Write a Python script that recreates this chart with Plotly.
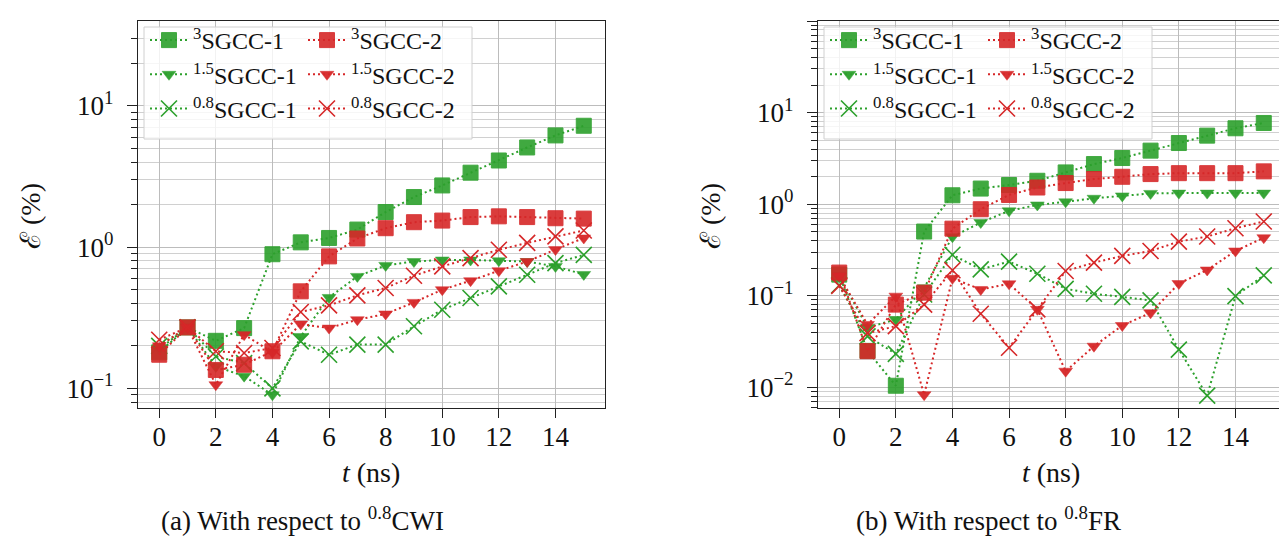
import plotly.graph_objects as go

t = list(range(16))

# Left panel: with respect to 0.8CWI
L_sq1 = [0.18, 0.27, 0.217, 0.267, 0.89, 1.08, 1.16, 1.33, 1.77, 2.26, 2.73, 3.36, 4.1, 5.07, 6.17, 7.22]
L_tri1 = [0.19, 0.27, 0.143, 0.122, 0.09, 0.233, 0.44, 0.62, 0.742, 0.79, 0.81, 0.81, 0.80, 0.79, 0.73, 0.64]
L_x1 = [0.2, 0.27, 0.168, 0.151, 0.1, 0.215, 0.173, 0.204, 0.204, 0.275, 0.36, 0.436, 0.527, 0.637, 0.77, 0.88]
L_sq2 = [0.173, 0.27, 0.135, 0.147, 0.183, 0.486, 0.859, 1.15, 1.36, 1.50, 1.54, 1.63, 1.65, 1.63, 1.60, 1.59]
L_tri2 = [0.2, 0.27, 0.106, 0.24, 0.18, 0.285, 0.267, 0.306, 0.336, 0.406, 0.499, 0.578, 0.68, 0.79, 0.96, 1.16]
L_x2 = [0.221, 0.27, 0.183, 0.178, 0.193, 0.347, 0.387, 0.455, 0.513, 0.627, 0.73, 0.836, 0.957, 1.07, 1.19, 1.31]

# Right panel: with respect to 0.8FR
R_sq1 = [0.17, 0.025, 0.0104, 0.502, 1.25, 1.48, 1.62, 1.8, 2.22, 2.74, 3.19, 3.84, 4.65, 5.6, 6.74, 7.7]
R_tri1 = [0.164, 0.045, 0.055, 0.122, 0.44, 0.63, 0.845, 0.98, 1.06, 1.16, 1.23, 1.31, 1.32, 1.32, 1.32, 1.32]
R_x1 = [0.13, 0.036, 0.0232, 0.103, 0.28, 0.194, 0.236, 0.174, 0.119, 0.105, 0.097, 0.089, 0.0258, 0.0081, 0.099, 0.167]
R_sq2 = [0.179, 0.0248, 0.080, 0.108, 0.54, 0.88, 1.26, 1.52, 1.70, 1.88, 1.99, 2.13, 2.18, 2.18, 2.18, 2.28]
R_tri2 = [0.164, 0.0485, 0.099, 0.0083, 0.155, 0.117, 0.135, 0.071, 0.015, 0.0281, 0.0473, 0.065, 0.136, 0.191, 0.308, 0.43]
R_x2 = [0.128, 0.039, 0.0466, 0.080, 0.19, 0.0635, 0.027, 0.071, 0.186, 0.23, 0.272, 0.308, 0.39, 0.443, 0.546, 0.646]

names = ["<sup>3</sup>SGCC-1", "<sup>1.5</sup>SGCC-1", "<sup>0.8</sup>SGCC-1",
         "<sup>3</sup>SGCC-2", "<sup>1.5</sup>SGCC-2", "<sup>0.8</sup>SGCC-2"]
x_ticks = [0, 2, 4, 6, 8, 10, 12, 14]

GREEN = "#2ca02c"
RED = "#d62728"
FONT = "Liberation Serif"
W, H = 1287, 543

def px2x(p):
    return p / W

def px2y(p):
    return 1 - p / H

fig = go.Figure()

def marker_for(kind, color):
    if kind == "sq":
        return dict(symbol="square", size=15, color=color, opacity=0.9,
                    line=dict(color=color, width=1))
    if kind == "tri":
        return dict(symbol="triangle-down", size=12, color=color, opacity=0.95,
                    line=dict(color=color, width=0.5))
    return dict(symbol="x-thin", size=16, color=color,
                line=dict(color=color, width=1.6))

panels = [
    ("x", "y", [L_sq1, L_tri1, L_x1, L_sq2, L_tri2, L_x2], ["legend", "legend2"]),
    ("x2", "y2", [R_sq1, R_tri1, R_x1, R_sq2, R_tri2, R_x2], ["legend3", "legend4"]),
]
kinds = ["sq", "tri", "x", "sq", "tri", "x"]
colors = [GREEN, GREEN, GREEN, RED, RED, RED]

for xa, ya, series, legs in panels:
    for i, ys in enumerate(series):
        fig.add_trace(go.Scatter(
            x=t, y=ys, name=names[i], mode="lines+markers",
            xaxis=xa, yaxis=ya,
            line=dict(color=colors[i], width=2, dash="2px,3px"),
            marker=marker_for(kinds[i], colors[i]),
            legend=legs[0] if i < 3 else legs[1],
            legendgroup=f"{xa}{i}",
        ))

# frame geometry (px)
LX = (130, 597)
RX = (810, 1277)
Y0, Y1 = 13, 400

def minor_vals(lo, hi):
    vals = []
    for e in range(lo, hi + 1):
        for m in range(2, 10):
            vals.append(m * 10 ** e)
    return vals

common_x = dict(range=[-0.75, 15.75], tickmode="array", tickvals=x_ticks,
                ticks="outside", ticklen=9, tickcolor="#222", tickwidth=1,
                ticklabelstandoff=-5,
                showgrid=True, gridcolor="#bcbcbc", gridwidth=1,
                showline=True, linecolor="#222", linewidth=1.2, mirror=True,
                zeroline=False, tickfont=dict(family=FONT, size=27, color="#111"))

def yaxis(lo, hi, rng, anchor):
    tv = [10 ** e for e in range(lo, hi + 1)]
    tt = [("10<sup>−%d</sup>" % (-e)) if e < 0 else ("10<sup>%d</sup>" % e) for e in range(lo, hi + 1)]
    return dict(type="log", range=rng, tickmode="array", tickvals=tv, ticktext=tt,
                ticks="outside", ticklen=10, tickcolor="#222", tickwidth=1,
                ticklabelstandoff=8,
                showgrid=True, gridcolor="#bcbcbc", gridwidth=1,
                minor=dict(tickmode="array", tickvals=minor_vals(lo - 1, hi), ticks="outside",
                           ticklen=6, tickcolor="#222", showgrid=True, gridcolor="#d0d0d0", gridwidth=1),
                showline=True, linecolor="#222", linewidth=1.2, mirror=True,
                zeroline=False, anchor=anchor,
                domain=[px2y(Y1), px2y(Y0)],
                tickfont=dict(family=FONT, size=27, color="#111"))

leg_common = dict(bgcolor="rgba(0,0,0,0)", borderwidth=0, orientation="v",
                  traceorder="grouped", tracegroupgap=0, itemsizing="trace",
                  itemwidth=38,
                  xanchor="left", yanchor="top",
                  font=dict(family=FONT, size=24, color="#111"))

fig.update_layout(
    width=W, height=H,
    margin=dict(l=0, r=0, t=0, b=0),
    paper_bgcolor="white", plot_bgcolor="white",
    font=dict(family=FONT),
    xaxis=dict(domain=[px2x(LX[0]), px2x(LX[1])], anchor="y", **common_x),
    xaxis2=dict(domain=[px2x(RX[0]), px2x(RX[1])], anchor="y2", **common_x),
    yaxis=yaxis(-1, 1, [-1.139, 1.6], "x"),
    yaxis2=yaxis(-2, 2, [-2.226, 2.0], "x2"),
    legend=dict(x=px2x(137), y=px2y(10), **leg_common),
    legend2=dict(x=px2x(295), y=px2y(10), **leg_common),
    legend3=dict(x=px2x(817), y=px2y(10), **leg_common),
    legend4=dict(x=px2x(975), y=px2y(10), **leg_common),
    showlegend=True,
)

# legend frames
for x0 in (136, 816):
    fig.add_shape(type="rect", xref="paper", yref="paper",
                  x0=px2x(x0), x1=px2x(x0 + 328), y0=px2y(131), y1=px2y(19),
                  fillcolor="rgba(255,255,255,0.8)", line=dict(color="#d0d0d0", width=1),
                  layer="above")

ann_font = dict(family=FONT, size=28, color="#111")
for cx, cy, txt, ang in [
    (363, 464, "<i>t</i> (ns)", 0),
    (1043, 464, "<i>t</i> (ns)", 0),
    (22, 208, "ℰ (%)", -90),
    (702, 208, "ℰ (%)", -90),
]:
    fig.add_annotation(x=px2x(cx), y=px2y(cy), xref="paper", yref="paper",
                       text=txt, showarrow=False, textangle=ang,
                       xanchor="center", yanchor="middle", font=ann_font)

for cx, txt in [(294, "(a) With respect to <sup>0.8</sup>CWI"),
                (981, "(b) With respect to <sup>0.8</sup>FR")]:
    fig.add_annotation(x=px2x(cx), y=px2y(511), xref="paper", yref="paper",
                       text=txt, showarrow=False, xanchor="center", yanchor="middle",
                       font=dict(family=FONT, size=27, color="#111"))

fig.write_html("out.html")
